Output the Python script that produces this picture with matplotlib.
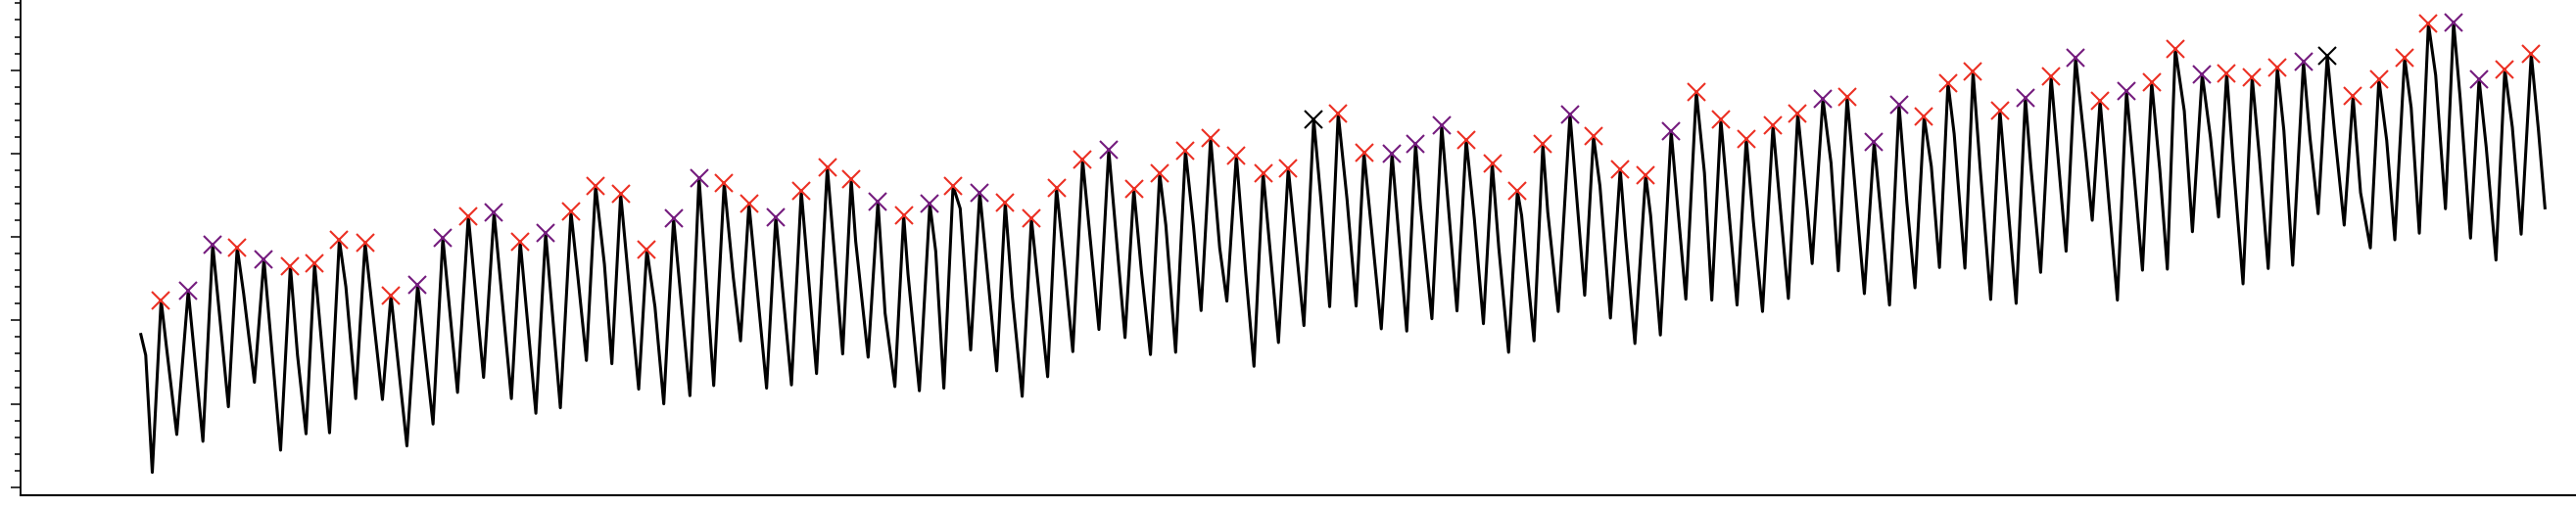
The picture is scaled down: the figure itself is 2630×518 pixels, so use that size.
import numpy as np
import matplotlib
matplotlib.use("Agg")
import matplotlib.pyplot as plt
from matplotlib.ticker import MultipleLocator

# detected peaks (sample index, amplitude) and their class
peak_x = [144, 171.7, 196.7, 221.7, 249, 276, 300.7, 326, 352.3, 378.7,
          406, 431.7, 457.7, 484, 510.7, 536.7, 562.5, 587.7, 613.3, 640,
          667.3, 693.3, 719, 744.3, 771.7, 797.7, 824.3, 848.7, 876, 902.3,
          929, 952.7, 980, 1006, 1032.7, 1058.3, 1085, 1111.7, 1137.3, 1163.7,
          1190, 1215.7, 1242, 1269.3, 1295, 1321, 1346, 1372.3, 1401, 1425,
          1451.7, 1476.7, 1503.3, 1529, 1555, 1582.7, 1606.7, 1634, 1660, 1686,
          1711.7, 1736.7, 1762.7, 1790, 1815.3, 1841, 1865.7, 1893.3, 1918.7, 1944.3,
          1968.7, 1994.3, 2021.7, 2047.7, 2074, 2099, 2124, 2151, 2176.7, 2200.8,
          2228.3, 2253.3, 2279.3, 2305, 2331.7, 2356, 2382.3, 2408.7, 2435, 2459.3,
          2485, 2511, 2537.3, 2564.3]
peak_y = [2.243, 2.356, 2.907, 2.876, 2.731, 2.653, 2.681, 2.966, 2.927, 2.301,
          2.430, 2.986, 3.251, 3.291, 2.946, 3.044, 3.302, 3.611, 3.513, 2.849,
          3.220, 3.708, 3.649, 3.396, 3.239, 3.552, 3.837, 3.689, 3.423, 3.259,
          3.396, 3.611, 3.532, 3.408, 3.220, 3.591, 3.924, 4.041, 3.572, 3.760,
          4.033, 4.185, 3.976, 3.767, 3.825, 4.411, 4.478, 4.009, 3.994, 4.118,
          4.334, 4.165, 3.884, 3.552, 4.111, 4.470, 4.205, 3.814, 3.740, 4.267,
          4.738, 4.411, 4.177, 4.334, 4.478, 4.654, 4.674, 4.138, 4.580, 4.439,
          4.847, 4.979, 4.517, 4.666, 4.920, 5.143, 4.634, 4.744, 4.853, 5.252,
          4.947, 4.959, 4.912, 5.026, 5.096, 5.173, 4.686, 4.889, 5.146, 5.557,
          5.572, 4.892, 5.009, 5.193]
peak_class = list("RPPRPRRRRRPPRPRPRRRRPPRRPRRRPRPRPRRRRPRRRRRRRKRRPPPRRRRPRRRPRRRRRPRPPRRRRPRPRPRRPRRRPKRRRRPPRR")

trough_x = [135, 160, 186.7, 212.7, 239.3, 266, 292, 316, 342.7, 370,
            395, 421.7, 446.7, 473.3, 501.7, 526.7, 551.7, 578.3, 604.3, 631.7,
            657.3, 684, 708.3, 735.7, 762.3, 787.7, 813.3, 840, 866, 893.3,
            918.3, 943.3, 970.7, 997.3, 1023.3, 1049.3, 1075, 1101.7, 1128.3, 1154.3,
            1180, 1206, 1232.3, 1260, 1285, 1311, 1337.3, 1364.3, 1390, 1416,
            1441.7, 1467.3, 1494.3, 1520, 1546, 1570.7, 1597.7, 1624, 1649, 1675,
            1701, 1727.5, 1753.3, 1779.3, 1805.7, 1830, 1856.7, 1883.3, 1909, 1935,
            1960, 1986, 2012.3, 2038.3, 2063.3, 2089.3, 2116, 2141.7, 2167.3, 2192.7,
            2218.3, 2245, 2270, 2295.7, 2320.7, 2346.7, 2373.3, 2400, 2425, 2450,
            2476.7, 2502.3, 2528.3, 2554]
trough_y = [0.179, 0.633, 0.551, 0.965, 1.258, 0.445, 0.641, 0.653, 1.063, 1.052,
            0.496, 0.758, 1.137, 1.317, 1.063, 0.887, 0.953, 1.520, 1.481, 1.176,
            1.000, 1.098, 1.219, 1.755, 1.188, 1.227, 1.363, 1.598, 1.559, 1.207,
            1.157, 1.188, 1.645, 1.395, 1.090, 1.325, 1.626, 1.891, 1.794, 1.591,
            1.618, 2.118, 2.231, 1.450, 1.735, 1.938, 2.165, 2.172, 1.899, 1.872,
            2.020, 2.114, 1.961, 1.618, 1.755, 2.107, 2.301, 2.028, 1.723, 1.825,
            2.254, 2.243, 2.184, 2.107, 2.263, 2.681, 2.594, 2.321, 2.184, 2.391,
            2.634, 2.626, 2.251, 2.204, 2.576, 2.829, 3.200, 2.243, 2.602, 2.614,
            3.063, 3.239, 2.438, 2.622, 2.661, 3.279, 3.142, 2.869, 2.966, 3.045,
            3.338, 2.986, 2.723, 3.033]

# shoulders / dicrotic notches on the falling edge, plus start and end of trace
shoulder_x = [123.3, 128.3, 149.3, 204, 228.3, 283.3, 332.7, 570, 596.7, 648.3,
              728.3, 853.3, 883.3, 906.7, 935, 960, 1013.3, 1066.7, 1145, 1170,
              1198.3, 1225, 1251.7, 1328.3, 1355, 1430, 1485, 1510, 1533.3, 1560,
              1613.3, 1639.3, 1665, 1691.7, 1720, 1770, 1825, 1849.3, 1926.7, 1951.7,
              1975, 2001.7, 2029, 2053.3, 2109.3, 2158.3, 2185, 2210, 2236.7, 2260,
              2286.7, 2311.7, 2338.3, 2363.3, 2390, 2416.7, 2441.7, 2466.7, 2491.7, 2518.3,
              2545, 2571.7, 2578.3]
shoulder_y = [1.832, 1.583, 1.700, 2.028, 2.321, 1.583, 2.403, 2.477, 2.673, 2.165,
              2.517, 2.946, 2.087, 2.556, 2.829, 3.341, 2.282, 2.634, 2.594, 3.142,
              3.122, 2.869, 2.556, 3.455, 3.455, 3.376, 3.220, 2.869, 3.259, 3.298,
              3.611, 3.025, 3.259, 3.493, 3.767, 3.181, 3.338, 3.884, 3.415, 3.845,
              4.236, 3.806, 3.493, 3.845, 4.001, 3.806, 3.806, 4.510, 4.197, 3.884,
              3.962, 4.275, 4.197, 4.275, 3.532, 4.158, 4.549, 4.939, 4.666, 4.080,
              4.314, 4.275, 3.349]

colors = {"R": "#ec3024", "P": "#751c7e", "K": "black"}

# full trace = all vertices in time order
sig_x = np.array(peak_x + trough_x + shoulder_x)
sig_y = np.array(peak_y + trough_y + shoulder_y)
order = np.argsort(sig_x)
sig_x, sig_y = sig_x[order], sig_y[order]

fig = plt.figure(figsize=(26.3, 5.18), dpi=100)
ax = fig.add_axes([0.0078, 0.024, 0.9922, 0.976])

ax.plot(sig_x, sig_y, color="black", lw=2.2, solid_joinstyle="round", zorder=2)

px = np.array(peak_x)
py = np.array(peak_y)
cls = np.array(peak_class)
for c in ["R", "P", "K"]:
    m = cls == c
    ax.plot(px[m], py[m], "x", color=colors[c], ms=12.5, mew=1.5, zorder=3)

ax.set_xlim(0, 2610)
ax.set_ylim(-0.09, 5.84)

ax.spines["top"].set_visible(False)
ax.spines["right"].set_visible(False)
ax.spines["left"].set_linewidth(1.3)
ax.spines["bottom"].set_linewidth(1.5)

ax.yaxis.set_major_locator(MultipleLocator(1))
ax.yaxis.set_minor_locator(MultipleLocator(0.2))
ax.tick_params(axis="y", which="major", length=7, width=1.1, labelleft=False)
ax.tick_params(axis="y", which="minor", length=4, width=1.1)
ax.set_xticks([])

fig.savefig("out.png", dpi=100)
